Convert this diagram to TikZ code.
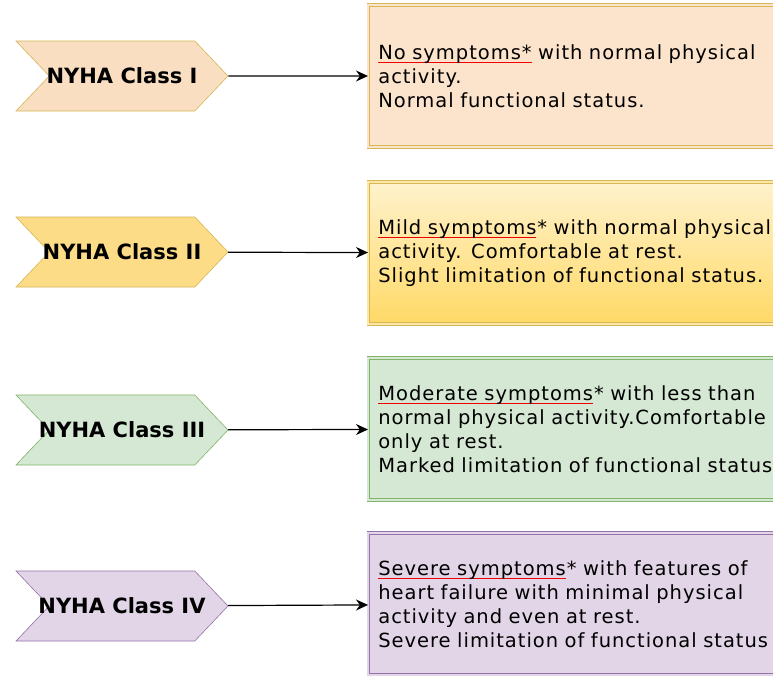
\documentclass[tikz,border=0pt]{standalone}
\usepackage{fontspec}
\setmainfont{DejaVu Sans}[LetterSpace=5]
\newfontfamily\chevfont{DejaVu Sans Bold}
\usetikzlibrary{shapes.symbols,arrows.meta}

\definecolor{peachfill}{HTML}{FCE4CC}
\definecolor{peachchev}{HTML}{F9DEC2}
\definecolor{goldline}{HTML}{D6B656}
\definecolor{yellowtop}{HTML}{FFF2CC}
\definecolor{yellowbot}{HTML}{FFD966}
\definecolor{yellowchev}{HTML}{FCDC86}
\definecolor{greenfill}{HTML}{D5E8D4}
\definecolor{greenline}{HTML}{82B366}
\definecolor{purplefill}{HTML}{E1D5E7}
\definecolor{purpleline}{HTML}{9673A6}
\definecolor{ulred}{HTML}{F00000}

\newlength\ulwidth
\newcommand\redul[1]{\settowidth\ulwidth{#1}\rlap{{\color{ulred}\rule[-3.5pt]{\ulwidth}{1.1pt}}}#1}

\tikzset{
  chev/.style={signal, signal to=east, signal from=west, signal pointer angle=93,
    minimum width=212pt, minimum height=70pt, inner xsep=-25pt, inner ysep=0pt,
    line width=0.6pt, font=\fontsize{21}{24}\chevfont},
  desc/.style={rectangle, anchor=west, minimum height=142pt, text width=420pt,
    inner xsep=10pt, align=left, line width=0.7pt, double distance=2pt,
    font=\fontsize{19.5}{24}\selectfont},
  arr/.style={-{Stealth[length=12pt,width=11pt]}, line width=1.2pt},
}

\begin{document}
\begin{tikzpicture}[x=1pt, y=-1pt]
\useasboundingbox (0,0) rectangle (773,675);
\clip (0,0) rectangle (773,675);
\fill[white] (0,0) rectangle (773,675);

% Klassen
\node[chev, fill=peachchev, draw=goldline]  (c1) at (122,76)  {NYHA Class I};
\node[chev, fill=yellowchev, draw=goldline] (c2) at (122,252) {NYHA Class II};
\node[chev, fill=greenfill, draw=greenline] (c3) at (122,430) {NYHA Class III};
\node[chev, fill=purplefill, draw=purpleline] (c4) at (122,606) {NYHA Class IV};

% Beschreibungen
\node[desc, fill=peachfill, draw=goldline, double=peachfill] (d1) at (368,76)
  {\redul{No symptoms*} with normal physical\\activity.\\Normal functional status.};
\node[desc, top color=yellowtop, bottom color=yellowbot, draw=goldline, double=yellowtop!60!yellowbot] (d2) at (368,253)
  {\redul{Mild symptoms}* with normal physical\\activity. Comfortable at rest.\\Slight limitation of functional status.};
\node[desc, fill=greenfill, draw=greenline, double=greenfill] (d3) at (368,429)
  {\redul{Moderate symptoms}* with less than\\normal physical activity.Comfortable\\only at rest.\\Marked limitation of functional status};
\node[desc, fill=purplefill, draw=purpleline, double=purplefill] (d4) at (368,604)
  {\redul{Severe symptoms}* with features of\\heart failure with minimal physical\\activity and even at rest.\\Severe limitation of functional status};

% Pfeile
\draw[arr] (c1) -- (d1);
\draw[arr] (c2) -- (d2);
\draw[arr] (c3) -- (d3);
\draw[arr] (c4) -- (d4);

\end{tikzpicture}
\end{document}
